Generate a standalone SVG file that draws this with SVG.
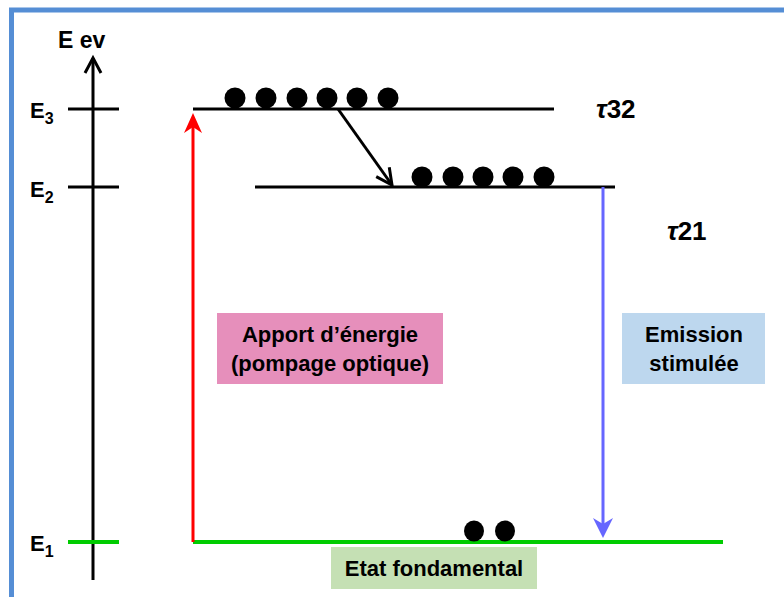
<svg xmlns="http://www.w3.org/2000/svg" width="784" height="597" viewBox="0 0 784 597">
<style>
text{font-family:"Liberation Sans",Arial,sans-serif;font-weight:bold;fill:#000}
.lvl{stroke:#000;stroke-width:3;fill:none}
.dot{fill:#000}
.lab{font-size:22px}
.sub{font-size:16px}
.box{font-size:22px;text-anchor:middle}
.tau{font-size:26px}
</style>
<defs>
<marker id="redHead" markerUnits="userSpaceOnUse" markerWidth="22" markerHeight="20" refX="12" refY="10" orient="auto" overflow="visible">
<path d="M0,1 L20,10 L0,19 L6,10 Z" fill="#ff0000"/>
</marker>
<marker id="blueHead" markerUnits="userSpaceOnUse" markerWidth="22" markerHeight="22" refX="12" refY="11" orient="auto" overflow="visible">
<path d="M0,1 L20,11 L0,21 L6,11 Z" fill="#6666ff"/>
</marker>
<marker id="openHead" markerUnits="userSpaceOnUse" markerWidth="20" markerHeight="20" refX="16" refY="9" orient="auto" overflow="visible">
<path d="M0,1 L16,9 L0,17" fill="none" stroke="#000" stroke-width="3"/>
</marker>
</defs>
<rect x="11.5" y="10" width="800" height="620" fill="#fff" stroke="#558ED5" stroke-width="5"/>
<g id="axis">
<line x1="93" y1="580" x2="93" y2="58" class="lvl"/>
<path d="M85,73 L93,58 L101,73" fill="none" stroke="#000" stroke-width="3"/>
<text x="58" y="48" style="font-size:23px">E ev</text>
<line x1="68" y1="109" x2="119" y2="109" class="lvl"/>
<line x1="68" y1="187" x2="119" y2="187" class="lvl"/>
<line x1="68" y1="542" x2="119" y2="542" stroke="#00cc00" stroke-width="4"/>
<text x="30" y="118" class="lab">E<tspan class="sub" dy="6">3</tspan></text>
<text x="30" y="197" class="lab">E<tspan class="sub" dy="6">2</tspan></text>
<text x="30" y="551" class="lab">E<tspan class="sub" dy="6">1</tspan></text>
</g>
<g id="level3">
<line x1="193" y1="109" x2="554" y2="109" class="lvl"/>
<circle class="dot" cx="235" cy="98" r="10.5"/>
<circle class="dot" cx="266" cy="98" r="10.5"/>
<circle class="dot" cx="297" cy="98" r="10.5"/>
<circle class="dot" cx="327" cy="98" r="10.5"/>
<circle class="dot" cx="357" cy="98" r="10.5"/>
<circle class="dot" cx="388" cy="98" r="10.5"/>
<text x="596" y="118" class="tau"><tspan font-style="italic">τ</tspan>32</text>
</g>
<g id="level2">
<line x1="255" y1="187" x2="615" y2="187" class="lvl"/>
<circle class="dot" cx="422" cy="177" r="10.5"/>
<circle class="dot" cx="453" cy="177" r="10.5"/>
<circle class="dot" cx="483" cy="177" r="10.5"/>
<circle class="dot" cx="513" cy="177" r="10.5"/>
<circle class="dot" cx="544" cy="177" r="10.5"/>
<text x="667" y="240" class="tau"><tspan font-style="italic">τ</tspan>21</text>
</g>
<g id="level1">
<line x1="193" y1="542" x2="723" y2="542" stroke="#00cc00" stroke-width="4"/>
<ellipse class="dot" cx="474" cy="531" rx="10" ry="10.5"/>
<ellipse class="dot" cx="505" cy="531" rx="10" ry="10.5"/>
</g>
<g id="connectors">
<line x1="193" y1="542" x2="193" y2="121" stroke="#ff0000" stroke-width="3" marker-end="url(#redHead)"/>
<line x1="603" y1="187" x2="603" y2="530" stroke="#6666ff" stroke-width="3" marker-end="url(#blueHead)"/>
<line x1="338" y1="109" x2="392" y2="185" stroke="#000" stroke-width="3" marker-end="url(#openHead)"/>
</g>
<g id="pump-label">
<rect x="217" y="313" width="226" height="71" fill="#E68FBB"/>
<text x="330" y="342" class="box">Apport d’énergie</text>
<text x="330" y="371" class="box">(pompage optique)</text>
</g>
<g id="emission-label">
<rect x="622" y="313" width="143" height="71" fill="#BDD7EE"/>
<text x="694" y="342" class="box">Emission</text>
<text x="694" y="371" class="box">stimulée</text>
</g>
<g id="ground-label">
<rect x="331" y="547" width="206" height="42" fill="#C5E0B4"/>
<text x="434" y="576" class="box">Etat fondamental</text>
</g>
</svg>
